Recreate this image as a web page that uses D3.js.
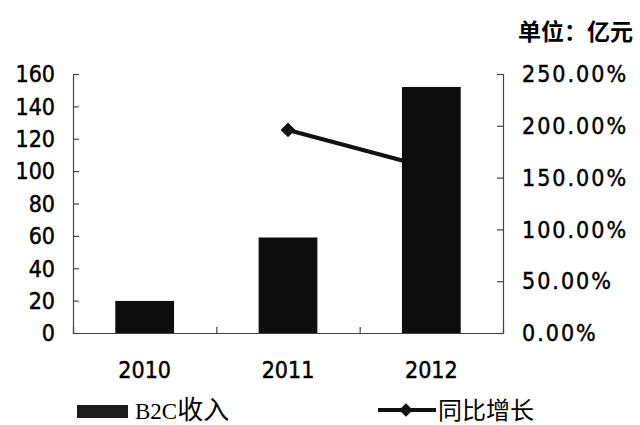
<!DOCTYPE html>
<html>
<head>
<meta charset="utf-8">
<script src="https://cdn.jsdelivr.net/npm/d3@7"></script>
<style>
  html, body { margin: 0; padding: 0; background: #fff; }
  svg { display: block; }
  .num { font-stretch: condensed; }
</style>
</head>
<body>
<svg id="chart" width="640" height="425"></svg>
<script>
// B2C revenue (亿元) and year-on-year growth
const years = ["2010", "2011", "2012"];
const revenue = [19.8, 59, 152];
const growth = [null, 1.96, 1.59];
const leftTicks = [0, 20, 40, 60, 80, 100, 120, 140, 160];
const rightTicks = [0, 0.5, 1, 1.5, 2, 2.5];
const unitLabel = "单位：亿元";
const legendBar = "B2C收入";
const legendLine = "同比增长";

const svg = d3.select("#chart");
const plotLeft = 73, plotRight = 503, plotTop = 74, plotBottom = 333;
const numFont = "'DejaVu Sans Condensed', 'DejaVu Sans', sans-serif";
const cjkFont = "'Noto Sans CJK SC', sans-serif";
const numSize = 23;

const x = d3.scaleBand().domain(years).range([plotLeft, plotRight])
  .paddingInner(0.59).paddingOuter(0.295);
const yL = d3.scaleLinear().domain([0, 160]).range([plotBottom, plotTop]);
const yR = d3.scaleLinear().domain([0, 2.5]).range([plotBottom, plotTop]);

// growth line sits behind the bars
const pts = years.map((d, i) => [x(d) + x.bandwidth() / 2, growth[i]]).filter(p => p[1] != null);
svg.append("path")
  .attr("d", d3.line().x(p => p[0]).y(p => yR(p[1]))(pts))
  .attr("fill", "none").attr("stroke", "#111").attr("stroke-width", 4);
svg.append("g").selectAll("path").data(pts).join("path")
  .attr("transform", p => `translate(${p[0]},${yR(p[1])})`)
  .attr("d", d3.symbol(d3.symbolDiamond2, 140))
  .attr("fill", "#111");

// bars
svg.append("g").selectAll("rect").data(years).join("rect")
  .attr("x", d => x(d))
  .attr("width", x.bandwidth())
  .attr("y", (d, i) => yL(revenue[i]))
  .attr("height", (d, i) => plotBottom - yL(revenue[i]))
  .attr("fill", "#0d0d0d");

// axes
const axisColor = "#444";
const gL = svg.append("g").attr("transform", `translate(${plotLeft},0)`)
  .call(d3.axisRight(yL).tickValues(leftTicks).tickSize(6).tickFormat(""));
const gR = svg.append("g").attr("transform", `translate(${plotRight},0)`)
  .call(d3.axisLeft(yR).tickValues(rightTicks).tickSize(6).tickFormat(""));
const step = x.step();
const catBounds = [plotLeft + step, plotLeft + 2 * step];
const gB = svg.append("g").attr("transform", `translate(0,${plotBottom})`)
  .call(d3.axisTop(d3.scaleLinear().domain([plotLeft, plotRight]).range([plotLeft, plotRight]))
    .tickValues(catBounds).tickSize(6).tickFormat(""));
[gL, gR, gB].forEach(g => {
  g.select(".domain").attr("stroke", axisColor).attr("stroke-width", 1.2);
  g.selectAll(".tick line").attr("stroke", axisColor).attr("stroke-width", 1.2);
});

// tick labels (a thin stroke gives the heavier print weight)
function numText(sel) {
  sel.attr("class", "num")
    .attr("font-family", numFont).attr("font-size", numSize)
    .attr("fill", "#000").attr("stroke", "#000").attr("stroke-width", 0.45);
}
svg.append("g").selectAll("text").data(leftTicks).join("text")
  .call(numText)
  .attr("x", 55).attr("y", d => yL(d)).attr("dy", "0.36em")
  .attr("text-anchor", "end")
  .text(d => d);
svg.append("g").selectAll("text").data(rightTicks).join("text")
  .call(numText)
  .attr("x", 522).attr("y", d => yR(d)).attr("dy", "0.36em")
  .attr("text-anchor", "start")
  .attr("letter-spacing", 2)
  .text(d => (d * 100).toFixed(2) + "%");
svg.append("g").selectAll("text").data(years).join("text")
  .call(numText)
  .attr("x", d => x(d) + x.bandwidth() / 2).attr("y", 378)
  .attr("text-anchor", "middle")
  .text(d => d);

// unit label
svg.append("text").attr("x", 633).attr("y", 40).attr("text-anchor", "end")
  .attr("font-family", cjkFont).attr("font-weight", "bold").attr("font-size", 23)
  .attr("fill", "#000").text(unitLabel);

// legend
svg.append("rect").attr("x", 77).attr("y", 405).attr("width", 51).attr("height", 13)
  .attr("fill", "#1a1a1a");
const lt = svg.append("text").attr("x", 135).attr("y", 419)
  .attr("fill", "#000");
lt.append("tspan").attr("font-family", "'Liberation Serif', serif").attr("font-size", 23)
  .text(legendBar.slice(0, 3));
lt.append("tspan").attr("font-family", cjkFont).attr("font-size", 26)
  .text(legendBar.slice(3));
svg.append("line").attr("x1", 378).attr("x2", 436).attr("y1", 410).attr("y2", 410)
  .attr("stroke", "#111").attr("stroke-width", 4);
svg.append("path").attr("transform", "translate(406,410)")
  .attr("d", d3.symbol(d3.symbolDiamond2, 120)).attr("fill", "#111");
svg.append("text").attr("x", 438).attr("y", 419)
  .attr("font-family", cjkFont).attr("font-size", 24).attr("fill", "#000")
  .text(legendLine);
</script>
</body>
</html>
